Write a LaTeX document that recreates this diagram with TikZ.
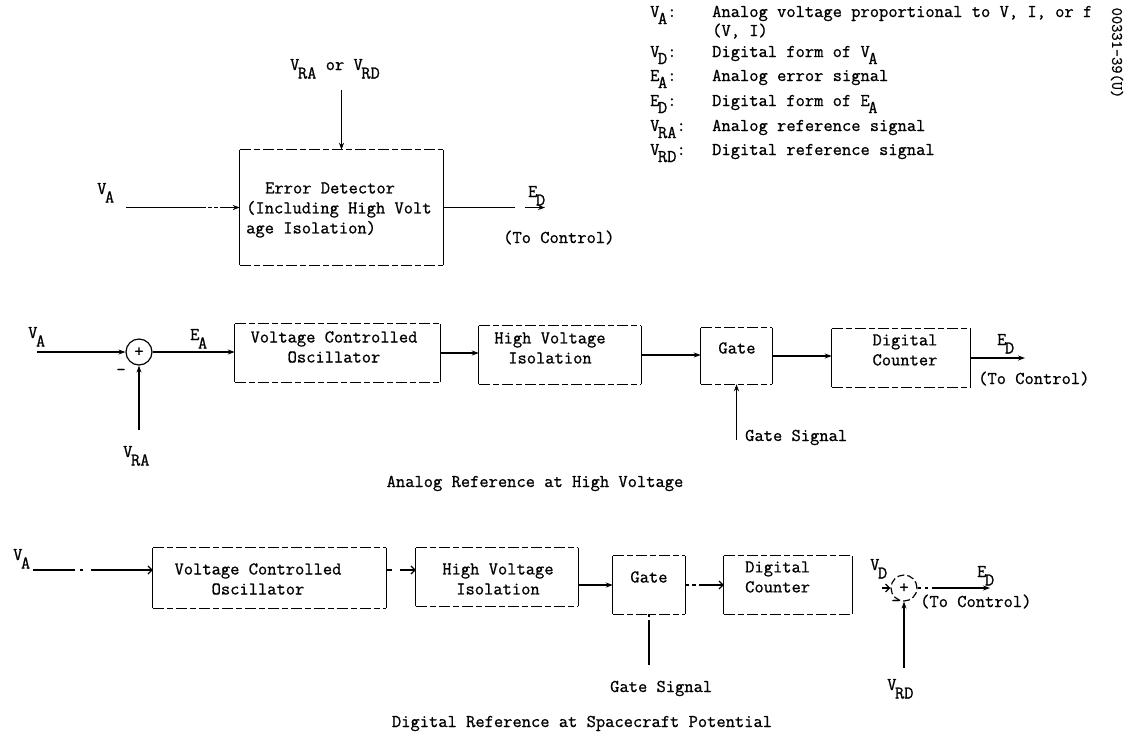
\documentclass[tikz,border=0pt]{standalone}
\usepackage{fontspec}
\setmainfont{Latin Modern Mono}[FakeBold=0.8]
\usetikzlibrary{arrows.meta}
\newcommand\fs{\fontsize{18}{20}\selectfont}
\newcommand\lo[1]{\hspace{-1.5pt}\raisebox{-8.5pt}{#1}}
\newcommand\los[1]{\hspace{-1.5pt}\raisebox{-7pt}{#1}}
\newcommand\bxedges[1]{%
  \draw[hd] (#1.north west) -- (#1.north east);
  \draw[hd] (#1.south west) -- (#1.south east);
  \draw[vs] (#1.north west) -- (#1.south west);
  \draw[vs] (#1.north east) -- (#1.south east);}
\tikzset{
  lbl/.style={inner sep=0pt, font=\fs},
  btxt/.style={inner sep=0pt, font=\fs, align=center},
  blk/.style={inner sep=0pt, draw=none},
  hd/.style={line width=1.2pt, dash pattern=on 11pt off 3pt on 6pt off 3pt},
  vs/.style={line width=1.3pt},
  arr/.style={line width=1.2pt, -{Stealth[length=7pt,width=5pt]}},
  arrb/.style={line width=1.2pt, -{Straight Barb[length=4pt,width=8pt]}},
  sumc/.style={circle, draw, line width=1.2pt, minimum size=26pt, inner sep=0pt, font=\fs},
}
\begin{document}
\begin{tikzpicture}[x=1pt,y=-1pt]
\useasboundingbox (0,0) rectangle (1131,740);
\fill[white] (0,0) rectangle (1131,740);

% ---------------- legend ----------------
\node[lbl, anchor=base west] (l1) at (650,17) {V\los{A}:};
\node[lbl, anchor=base west] (d1) at (712,17) {Analog voltage proportional to V, I, or f};
\node[lbl, anchor=base west] (d1b) at (712,36) {(V, I)};
\node[lbl, anchor=base west] (l2) at (650,57) {V\los{D}:};
\node[lbl, anchor=base west] (d2) at (712,57) {Digital form of V\los{A}};
\node[lbl, anchor=base west] (l3) at (650,81) {E\los{A}:};
\node[lbl, anchor=base west] (d3) at (712,81) {Analog error signal};
\node[lbl, anchor=base west] (l4) at (650,106) {E\los{D}:};
\node[lbl, anchor=base west] (d4) at (712,106) {Digital form of E\los{A}};
\node[lbl, anchor=base west] (l5) at (650,131) {V\los{RA}:};
\node[lbl, anchor=base west] (d5) at (712,131) {Analog reference signal};
\node[lbl, anchor=base west] (l6) at (650,155) {V\los{RD}:};
\node[lbl, anchor=base west] (d6) at (712,155) {Digital reference signal};
\node[inner sep=0pt, rotate=-90, font=\fontsize{16}{16}\selectfont] (code) at (1117,53) {00331-39(U)};

% ---------------- top: error detector ----------------
\node[blk, minimum width=203pt, minimum height=115pt] (ed) at (341.5,207.5) {};
\bxedges{ed}
\node[lbl, anchor=west, align=left] (edt) at (246,210) {\hspace*{19pt}Error Detector\\(Including High Volt\\age Isolation)};
\node[lbl, anchor=base] (vrv) at (335,70) {V\lo{RA} or V\lo{RD}};
\coordinate (vrs) at (341.5,90);
\draw[arr] (vrs) -- (ed.north);
\node[lbl, anchor=base west] (va0) at (97,194) {V\lo{A}};
\coordinate (vas) at (126,207.5);
\draw[arr, dash pattern=on 80pt off 2pt on 4pt off 2pt on 4pt off 2pt on 40pt] (vas) -- (ed.west);
\coordinate (edo) at (545,207.5);
\draw[arr, dash pattern=on 72pt off 10pt on 30pt] (ed.east) -- (edo);
\node[lbl, anchor=base west] (ed0) at (528,197) {E\lo{D}};
\node[lbl, anchor=base west] (tc0) at (503,243) {(To Control)};

% ---------------- middle: analog reference ----------------
\node[sumc] (sum1) at (139,352) {+};
\node[lbl, anchor=base west] (va1l) at (28,338) {V\lo{A}};
\coordinate (va1) at (37,352);
\draw[arr] (va1) -- (sum1.west);
\node[lbl] (mn1) at (121,372) {–};
\coordinate (vra1) at (139,430);
\draw[arr] (vra1) -- (sum1.south);
\node[lbl, anchor=base west] (vra1l) at (123,457) {V\lo{RA}};
\node[lbl, anchor=base west] (ea1) at (190,340) {E\lo{A}};

\node[blk, minimum width=205pt, minimum height=58pt] (vco1) at (337.5,353) {};
\bxedges{vco1}
\node[btxt] (vco1t) at (334,347) {Voltage Controlled\\Oscillator};
\node[blk, minimum width=162pt, minimum height=58pt] (hv1) at (560,355) {};
\bxedges{hv1}
\node[btxt] (hv1t) at (550,348) {High Voltage\\Isolation};
\node[blk, minimum width=71pt, minimum height=56pt] (gate1) at (736.5,356) {};
\bxedges{gate1}
\node[btxt] (gate1t) at (737,348) {Gate};
\node[blk, minimum width=138pt, minimum height=58pt] (cnt1) at (901,358) {};
\bxedges{cnt1}
\node[btxt] (cnt1t) at (905,350) {Digital\\Counter};

\draw[arr] (sum1.east) -- (vco1.west |- sum1.east);
\draw[arr] (vco1.east) -- (hv1.west |- vco1.east);
\draw[arr] (hv1.east) -- (gate1.west |- hv1.east);
\draw[arr] (gate1.east) -- (cnt1.west |- gate1.east);
\coordinate (ed1) at (1025,358);
\draw[arr] (cnt1.east) -- (ed1);
\node[lbl, anchor=base west] (ed1l) at (997,345) {E\lo{D}};
\node[lbl, anchor=base west] (tc1) at (978,384) {(To Control)};
\coordinate (gs1) at (736.5,440);
\draw[arr] (gs1) -- (gate1.south);
\node[lbl, anchor=base west] (gs1l) at (745,441) {Gate Signal};
\node[lbl, anchor=base] (cap1) at (535,487) {Analog Reference at High Voltage};

% ---------------- bottom: digital reference ----------------
\node[lbl, anchor=base west] (va2l) at (13,560) {V\lo{A}};
\node[blk, minimum width=233pt, minimum height=60pt] (vco2) at (269.5,578) {};
\bxedges{vco2}
\node[btxt] (vco2t) at (258,579) {Voltage Controlled\\Oscillator};
\node[blk, minimum width=162pt, minimum height=58pt] (hv2) at (497,577) {};
\bxedges{hv2}
\node[btxt] (hv2t) at (498,579) {High Voltage\\Isolation};
\node[blk, minimum width=72pt, minimum height=58pt] (gate2) at (649,585) {};
\bxedges{gate2}
\node[btxt] (gate2t) at (649,577) {Gate};
\node[blk, minimum width=128pt, minimum height=58pt] (cnt2) at (788,585) {};
\bxedges{cnt2}
\node[lbl, anchor=west, align=left] (cnt2t) at (745,577) {Digital\\Counter};

\coordinate (va2) at (33,570);
\draw[arrb, dash pattern=on 42pt off 5pt on 3pt off 8pt on 80pt] (va2) -- (vco2.west |- va2);
\draw[arrb, dash pattern=on 6pt off 8pt on 20pt] (vco2.east |- va2) -- (hv2.west |- va2);
\draw[arr] (hv2.east |- gate2.west) -- (gate2.west);
\draw[arrb, dash pattern=on 4pt off 3pt on 4pt off 3pt on 30pt] (gate2.east) -- (cnt2.west);

\node[sumc, dash pattern=on 7pt off 3pt] (sum2) at (904,588) {+};
\node[lbl, anchor=base west] (vd2l) at (870,570) {V\lo{D}};
\coordinate (vd2) at (882,588);
\draw[arrb] (vd2) -- (sum2.west);
\coordinate (ed2) at (990,588);
\draw[arr, dash pattern=on 3pt off 4pt on 3pt off 4pt on 60pt] (sum2.east) -- (ed2);
\node[lbl, anchor=base west] (ed2l) at (977,577) {E\lo{D}};
\node[lbl, anchor=base west] (tc2) at (920,607) {(To Control)};
\node[lbl] (mn2) at (896,603) {-};
\coordinate (vrd2) at (904,668);
\draw[arr] (vrd2) -- (sum2.south);
\node[lbl, anchor=base west] (vrd2l) at (887,690) {V\lo{RD}};
\coordinate (gs2) at (649,665);
\draw[line width=1.2pt, dash pattern=on 3pt off 3pt on 60pt] (gate2.south) -- (gs2);
\node[lbl, anchor=base west] (gs2l) at (610,692) {Gate Signal};
\node[lbl, anchor=base] (cap2) at (582,727) {Digital Reference at Spacecraft Potential};
\end{tikzpicture}
\end{document}
